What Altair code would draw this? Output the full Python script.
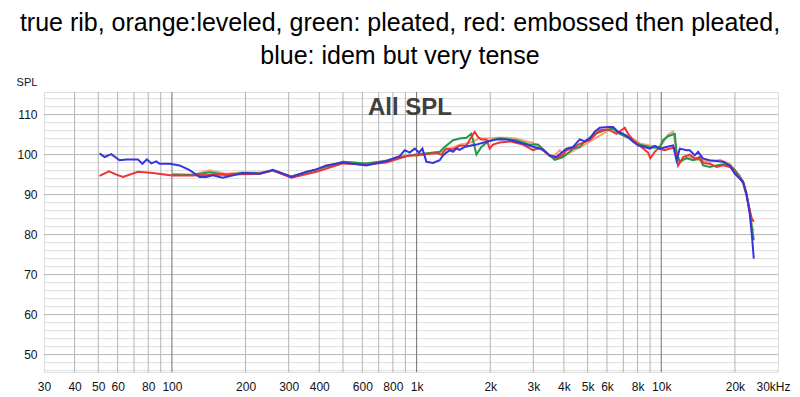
import altair as alt
import pandas as pd

TITLE_LINE_1 = "true rib, orange:leveled, green: pleated, red: embossed then pleated,"
TITLE_LINE_2 = "blue: idem but very tense"
INNER_LABEL = "All SPL"
Y_AXIS_LABEL = "SPL"

X_TICKS = [30, 40, 50, 60, 80, 100, 200, 300, 400, 600, 800, 1000, 2000, 3000,
           4000, 5000, 6000, 8000, 10000, 20000, 30000]
Y_TICKS = [50, 60, 70, 80, 90, 100, 110]
X_GRID_MINOR = [40, 50, 60, 70, 80, 90, 200, 300, 400, 500, 600, 700, 800, 900,
                2000, 3000, 4000, 5000, 6000, 7000, 8000, 9000, 20000]
X_GRID_MAJOR = [100, 1000, 10000]
Y_GRID_MINOR = [46, 48, 52, 54, 56, 58, 62, 64, 66, 68, 72, 74, 76, 78, 82, 84, 86, 88,
                92, 94, 96, 98, 102, 104, 106, 108, 112, 114]
Y_GRID_MAJOR = [50, 60, 70, 80, 90, 100, 110]

# ---- series: orange (leveled) ----
orange_f = [100, 121.5, 142.6, 166.9, 195.2, 228.4, 258.8, 307.7, 389.4, 500, 623, 752, 853,
            937, 998, 1131, 1243, 1324, 1408, 1500, 1598, 1701, 1782, 1929, 2120, 2329, 2559,
            2812, 2992, 3187, 3501, 3670, 3847, 3968, 4227, 4645, 4867, 5347, 5875, 6353, 6767,
            7435, 8167, 8974, 9860, 10170, 10660, 11175, 11540, 11717, 12283, 13080, 14370,
            15790, 17348, 19060, 19977, 20940, 21600, 22300, 23000, 23440, 23890]
orange_db = [95.0, 95.0, 96.1, 95.2, 95.6, 95.5, 96.0, 94.6, 96.2, 98.2, 97.8, 98.5, 99.5,
             99.8, 100.0, 100.3, 100.6, 101.3, 101.8, 102.5, 102.8, 103.2, 104.0, 104.0, 104.2,
             104.2, 104.0, 103.3, 103.0, 101.7, 99.6, 99.8, 101.1, 99.8, 100.5, 101.8, 102.5,
             104.0, 105.5, 106.5, 105.5, 104.5, 102.8, 102.3, 101.9, 103.0, 105.0, 105.8, 100.5,
             97.3, 98.8, 99.4, 98.6, 98.2, 98.7, 97.7, 96.1, 94.8, 93.2, 90.0, 86.0, 82.0, 81.0]

# ---- series: green (pleated) ----
green_f = [100, 121.5, 142.6, 166.9, 195.2, 228.4, 258.8, 307.7, 389.4, 500, 623, 752, 853,
           937, 998, 1131, 1243, 1303, 1408, 1500, 1598, 1675, 1701, 1756, 1840, 1958, 2186,
           2559, 2900, 3136, 3501, 3670, 3968, 4227, 4361, 4645, 4867, 5347, 5875, 6353, 6767,
           7435, 8167, 8974, 9406, 9860, 10170, 10660, 11357, 11540, 11907, 12683, 13490,
           14370, 14824, 15790, 16818, 17896, 19060, 19977, 20940, 21600, 22300, 23000,
           23440, 23890]
green_db = [95.0, 94.9, 95.6, 94.9, 95.4, 95.3, 96.0, 94.5, 96.3, 98.2, 97.8, 98.4, 99.3,
            99.8, 100.0, 100.4, 100.7, 101.9, 103.6, 104.0, 104.2, 105.2, 103.6, 100.0, 101.9,
            103.3, 104.1, 103.6, 102.5, 102.5, 99.8, 98.7, 99.4, 100.7, 101.5, 101.9, 103.3,
            105.2, 106.1, 106.5, 105.2, 104.0, 102.5, 101.9, 101.7, 101.9, 103.6, 104.6, 105.2,
            100.7, 98.2, 99.1, 98.6, 99.0, 97.3, 96.9, 97.3, 97.6, 97.3, 96.2, 94.4, 93.2,
            90.2, 85.6, 81.9, 78.6]

# ---- series: red (embossed then pleated) ----
red_f = [50.6, 55.3, 59.3, 63.1, 72.6, 83.6, 100, 121.5, 166.9, 228.4, 258.8, 307.7, 389.4,
         500, 623, 752, 853, 937, 998, 1131, 1205, 1263, 1324, 1408, 1500, 1598, 1675, 1728,
         1782, 1840, 1929, 1990, 2053, 2186, 2402, 2723, 2992, 3187, 3501, 3729, 3968, 4099,
         4361, 4645, 5101, 5605, 6060, 6353, 6560, 7094, 7318, 7668, 8167, 8831, 9032, 9406,
         9704, 10335, 10833, 11357, 11717, 12283, 13080, 13710, 14370, 14824, 15790, 16818,
         17896, 19060, 19977, 20940, 21600, 22300, 23000, 23440, 23890]
red_db = [94.7, 95.8, 95.0, 94.4, 95.7, 95.4, 94.8, 94.8, 95.0, 95.2, 96.0, 94.2, 95.7,
          97.8, 97.5, 98.0, 99.1, 99.8, 99.8, 100.2, 100.4, 100.0, 101.5, 101.3, 102.2, 102.3,
          104.4, 105.7, 104.4, 103.8, 103.8, 101.5, 102.5, 103.0, 103.3, 102.5, 101.1, 101.7,
          99.8, 99.1, 100.0, 101.1, 101.7, 102.7, 103.6, 106.1, 106.3, 105.7, 105.2, 106.7,
          105.2, 103.6, 102.2, 100.5, 99.1, 100.7, 101.5, 101.1, 101.5, 101.7, 97.3, 99.4,
          100.0, 99.0, 99.4, 97.9, 97.7, 96.9, 97.3, 96.9, 95.7, 94.0, 92.9, 89.8, 86.1, 84.0,
          83.2]

# ---- series: blue (idem but very tense) ----
blue_f = [50.6, 53.1, 56.5, 61.1, 65.1, 72.6, 75.7, 79.0, 82.4, 86.3, 89.1, 97.9, 107.5,
          118.1, 129.8, 138.2, 146.7, 161.2, 183.4, 195.2, 228.4, 258.8, 307.7, 354.4, 389.4,
          427.9, 500, 623, 752, 853, 894, 937, 982, 1023, 1056, 1097, 1167, 1243, 1282, 1324,
          1366, 1408, 1454, 1500, 1573, 1649, 1756, 1929, 2120, 2329, 2559, 2812, 3089, 3287,
          3501, 3729, 3968, 4099, 4361, 4645, 4867, 5101, 5347, 5605, 6060, 6353, 6660, 6981,
          7318, 7668, 8038, 8560, 8974, 9406, 9860, 10502, 11175, 11540, 11907, 12683, 13080,
          13710, 14143, 14824, 15790, 16818, 17896, 19060, 19977, 20940, 21600, 22300, 23000,
          23440, 23890]
blue_db = [100.3, 99.4, 100.1, 98.6, 98.8, 98.8, 97.7, 98.8, 97.8, 98.3, 97.7, 97.7, 97.3,
           96.1, 94.4, 94.4, 94.8, 94.2, 95.0, 95.4, 95.2, 96.2, 94.4, 95.7, 96.3, 97.3, 98.0,
           97.3, 98.4, 99.6, 101.1, 100.5, 101.5, 100.5, 101.5, 98.2, 97.9, 98.6, 99.8, 100.5,
           101.1, 100.7, 101.5, 101.2, 101.9, 102.2, 102.5, 103.2, 103.8, 103.8, 103.2, 102.5,
           101.7, 101.2, 99.7, 99.4, 100.8, 101.5, 101.9, 103.8, 103.3, 104.0, 105.7, 106.7,
           106.9, 106.9, 105.7, 105.2, 104.4, 103.2, 102.3, 101.9, 101.5, 102.2, 101.5, 101.9,
           102.3, 98.6, 101.5, 101.1, 101.1, 99.8, 100.7, 99.0, 98.6, 98.4, 98.2, 97.3, 95.2,
           94.0, 93.2, 90.2, 85.2, 80.2, 74.0]

SERIES = [
    ("leveled", orange_f, orange_db, "#f4a27a"),
    ("pleated", green_f, green_db, "#1f9a45"),
    ("embossed then pleated", red_f, red_db, "#ec3434"),
    ("idem but very tense", blue_f, blue_db, "#3535dd"),
]

W, H = 734, 280
X_DOMAIN = [30, 30000]
Y_DOMAIN = [45.65, 115.65]
FONT = "Liberation Sans"

xscale = alt.Scale(type="log", domain=X_DOMAIN, nice=False)
yscale = alt.Scale(domain=Y_DOMAIN, nice=False, zero=False)

x_axis = alt.Axis(
    values=X_TICKS, grid=False, domain=False, ticks=False, title=None,
    labelExpr="datum.value >= 30000 ? '30kHz' : (datum.value >= 1000 ? (datum.value / 1000) + 'k' : '' + datum.value)",
    labelFont=FONT, labelFontSize=12, labelColor="#111111", labelPadding=9,
    labelOverlap=False, labelFlush=False, labelBound=False,
    labelOffset={"condition": {"test": "datum.value >= 30000", "value": -5}, "value": 0},
)
y_axis = alt.Axis(
    values=Y_TICKS, grid=False, domain=False, ticks=False, title=None,
    labelFont=FONT, labelFontSize=12, labelColor="#111111", labelPadding=7,
    labelOverlap=False, labelFlush=False, labelBound=False,
)

layers = []

layers.append(
    alt.Chart(pd.DataFrame({"y": Y_GRID_MINOR})).mark_rule(color="#dedede", strokeWidth=1)
    .encode(y=alt.Y("y:Q", scale=yscale, axis=y_axis))
)
layers.append(
    alt.Chart(pd.DataFrame({"y": Y_GRID_MAJOR})).mark_rule(color="#b4b4b4", strokeWidth=1)
    .encode(y=alt.Y("y:Q", scale=yscale))
)
layers.append(
    alt.Chart(pd.DataFrame({"x": X_GRID_MINOR})).mark_rule(color="#b4b4b4", strokeWidth=1)
    .encode(x=alt.X("x:Q", scale=xscale, axis=x_axis))
)
layers.append(
    alt.Chart(pd.DataFrame({"x": X_GRID_MAJOR})).mark_rule(color="#707070", strokeWidth=1)
    .encode(x=alt.X("x:Q", scale=xscale))
)

for name, fs, dbs, col in SERIES:
    df = pd.DataFrame({"freq": fs, "spl": dbs, "series": name})
    layers.append(
        alt.Chart(df).mark_line(color=col, strokeWidth=2, clip=True, interpolate="linear")
        .encode(
            x=alt.X("freq:Q", scale=xscale),
            y=alt.Y("spl:Q", scale=yscale),
            order=alt.Order("freq:Q"),
        )
    )

one = pd.DataFrame({"a": [0]})
layers.append(
    alt.Chart(one).mark_text(text=INNER_LABEL, font=FONT, fontSize=24, fontWeight="bold",
                             color="#404040", align="center", baseline="alphabetic")
    .encode(x=alt.value(366), y=alt.value(23))
)
layers.append(
    alt.Chart(one).mark_text(text=Y_AXIS_LABEL, font=FONT, fontSize=11, color="#111111",
                             align="center", baseline="alphabetic")
    .encode(x=alt.value(-17), y=alt.value(-6))
)
layers.append(
    alt.Chart(one).mark_text(text=TITLE_LINE_1, font=FONT, fontSize=25, color="#000000",
                             align="center", baseline="alphabetic")
    .encode(x=alt.value(356), y=alt.value(-61))
)
layers.append(
    alt.Chart(one).mark_text(text=TITLE_LINE_2, font=FONT, fontSize=25, color="#000000",
                             align="center", baseline="alphabetic")
    .encode(x=alt.value(356), y=alt.value(-28))
)

chart = (
    alt.layer(*layers)
    .properties(
        width=W, height=H,
        autosize=alt.AutoSizeParams(type="none"),
        padding={"left": 36, "top": 84, "right": 14, "bottom": 20},
    )
    .configure_view(stroke="#a6a6a6", strokeWidth=3)
    .configure(background="white")
)

chart.save("out.html", embed_options={"renderer": "svg", "actions": False})
